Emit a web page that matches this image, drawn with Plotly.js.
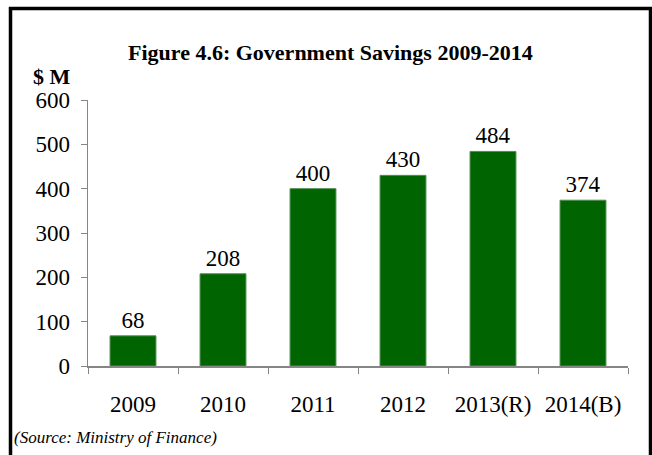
<!DOCTYPE html>
<html>
<head>
<meta charset="utf-8">
<script src="https://cdn.plot.ly/plotly-3.0.1.min.js"></script>
<style>
html,body{margin:0;padding:0;background:#fff;}
#chart{width:652px;height:455px;}
</style>
</head>
<body>
<div id="chart"></div>
<script>
const categories = ["2009", "2010", "2011", "2012", "2013(R)", "2014(B)"];
const savings = [68, 208, 400, 430, 484, 374];
const yTicks = [0, 100, 200, 300, 400, 500, 600];

const W = 652, H = 455;
const L = 88, R = 24, T = 100, B = 89;
const pw = W - L - R, ph = H - T - B;
const px = x => (x - L) / pw;
const py = y => (H - B - y) / ph;

const serif = "Liberation Serif";

const trace = {
  type: "bar",
  x: categories,
  y: savings,
  marker: {color: "#006400", line: {color: "#4f8f4f", width: 1}},
  width: 0.51,
  text: savings.map(String),
  textposition: "outside",
  cliponaxis: false,
  textfont: {family: serif, size: 23, color: "#000"},
  hoverinfo: "x+y"
};

const layout = {
  width: W, height: H,
  margin: {l: L, r: R, t: T, b: B},
  paper_bgcolor: "#fff",
  plot_bgcolor: "#fff",
  showlegend: false,
  font: {family: serif, color: "#000"},
  xaxis: {
    type: "category",
    showgrid: false,
    showline: true,
    linecolor: "#868686",
    linewidth: 1.5,
    ticks: "outside",
    tickson: "boundaries",
    ticklen: 6,
    tickcolor: "#868686",
    tickfont: {family: serif, size: 23, color: "#000"},
    ticklabelstandoff: 17,
    zeroline: false
  },
  yaxis: {
    range: [0, 600],
    tickvals: yTicks,
    showgrid: false,
    showline: true,
    linecolor: "#868686",
    linewidth: 1.5,
    ticks: "outside",
    ticklen: 6,
    tickcolor: "#868686",
    tickfont: {family: serif, size: 23, color: "#000"},
    ticklabelstandoff: 6,
    zeroline: false
  },
  annotations: [
    {xref: "paper", yref: "paper", x: px(330), y: py(53), xanchor: "center", yanchor: "middle",
     text: "<b>Figure 4.6: Government Savings 2009-2014</b>", showarrow: false,
     font: {family: serif, size: 22, color: "#000"}},
    {xref: "paper", yref: "paper", x: px(52), y: py(77), xanchor: "center", yanchor: "middle",
     text: "<b>$ M</b>", showarrow: false,
     font: {family: serif, size: 22, color: "#000"}},
    {xref: "paper", yref: "paper", x: px(12), y: py(437), xanchor: "left", yanchor: "middle",
     text: "<i>(Source: Ministry of Finance)</i>", showarrow: false,
     font: {family: serif, size: 17, color: "#000"}}
  ],
  shapes: [
    {type: "line", xref: "paper", yref: "paper", x0: px(10.5), x1: px(10.5), y0: py(7), y1: py(456), line: {color: "#000", width: 3.5}},
    {type: "line", xref: "paper", yref: "paper", x0: px(9), x1: px(652), y0: py(8.5), y1: py(8.5), line: {color: "#000", width: 3.5}},
    {type: "line", xref: "paper", yref: "paper", x0: px(650.5), x1: px(650.5), y0: py(7), y1: py(456), line: {color: "#000", width: 3.5}}
  ]
};

Plotly.newPlot("chart", [trace], layout, {displayModeBar: false, staticPlot: true});
</script>
</body>
</html>
